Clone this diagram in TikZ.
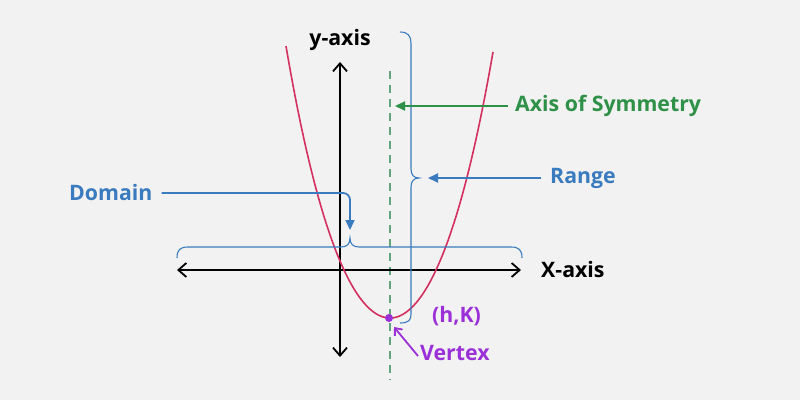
\documentclass[tikz,border=0pt]{standalone}
\usepackage{fontspec}
\setmainfont{Open Sans}
\usetikzlibrary{arrows.meta}
\definecolor{bg}{HTML}{F2F2F2}
\definecolor{myblue}{HTML}{3A7BBF}
\definecolor{mygreen}{HTML}{2F9147}
\definecolor{mydash}{HTML}{62A57C}
\definecolor{mypurple}{HTML}{9B30D9}
\definecolor{myred}{HTML}{D4305F}
\tikzset{
  lbl/.style={font=\bfseries\fontsize{21.3}{24}\selectfont, inner sep=0pt},
  axisline/.style={line width=1.8pt, {Straight Barb[length=8pt,width=14pt,line width=1.8pt]}-{Straight Barb[length=8pt,width=14pt,line width=1.8pt]}},
  bracestyle/.style={myblue, line width=1.1pt},
  bluearr/.style={myblue, line width=1.8pt, -{Triangle[length=10pt,width=9pt]}},
  greenarr/.style={mygreen, line width=1.8pt, -{Triangle[length=10pt,width=9pt]}},
  purparr/.style={mypurple, line width=1.8pt, -{Straight Barb[length=6pt,width=10pt,line width=1.8pt]}},
  parab/.style={myred, line width=1.6pt},
  symline/.style={mydash, line width=1.2pt, dash pattern=on 8pt off 6pt}
}
\begin{document}
\begin{tikzpicture}[x=1pt,y=-1pt]
\useasboundingbox (0,0) rectangle (800,400);
\fill[bg] (0,0) rectangle (800,400);

% axis of symmetry
\coordinate (symtop) at (390,71);
\coordinate (symbot) at (390,380);
\draw[symline] (symtop) -- (symbot);

% axes
\coordinate (ytop) at (340,62);
\coordinate (ybot) at (340,357);
\coordinate (xleft) at (177,270);
\coordinate (xright) at (521,270);
\draw[axisline] (ybot) -- (ytop);
\draw[axisline] (xleft) -- (xright);

% parabola
\draw[parab] plot[domain=-104:103, samples=120, smooth] ({390+\x},{318-0.02208*\x*\x-((\x/43.36)^2)^2});

% domain brace
\coordinate (dtip) at (350,238);
\draw[bracestyle] (177,258) .. controls (177,250) and (180,247) .. (188,247)
  -- (341,247) .. controls (347,247) and (350,244) .. (dtip)
  .. controls (350,244) and (353,247) .. (359,247)
  -- (511,247) .. controls (519,247) and (522,250) .. (522,258);

% range brace
\coordinate (rtip) at (419,178);
\draw[bracestyle] (400,32) .. controls (408,32) and (411,36) .. (411,43)
  -- (411,169) .. controls (411,175) and (414,178) .. (rtip)
  .. controls (414,178) and (411,181) .. (411,187)
  -- (411,314) .. controls (411,320) and (409,323) .. (400,323);

% labels
\node[lbl, anchor=center] (ylab) at (340,40) {y-axis};
\node[lbl, anchor=west] (xlab) at (541,270) {X-axis};
\node[lbl, anchor=west, text=myblue] (domain) at (69,193) {Domain};
\node[lbl, anchor=west, text=myblue] (range) at (550,178) {Range};
\node[lbl, anchor=west, text=mygreen] (sym) at (515,106) {Axis of Symmetry};
\node[lbl, anchor=west, text=mypurple] (hk) at (432,316) {(h,K)};
\node[lbl, anchor=west, text=mypurple] (vertex) at (420,353) {Vertex};

% arrows
\coordinate (dend) at (350,230);
\draw[bluearr, rounded corners=7pt] ([xshift=9pt]domain.east) -| (dend);
\coordinate (rend) at (428,178);
\draw[bluearr] ([xshift=-9pt]range.west) -- (rend);
\coordinate (send) at (395,106);
\draw[greenarr] ([xshift=-7pt]sym.west) -- (send);

% vertex
\coordinate (vtx) at (389,318);
\fill[mypurple] (vtx) circle (4pt);
\coordinate (varrtip) at (394,327);
\draw[purparr] ([xshift=-2pt,yshift=-3pt]vertex.west) -- (varrtip);
\end{tikzpicture}
\end{document}
